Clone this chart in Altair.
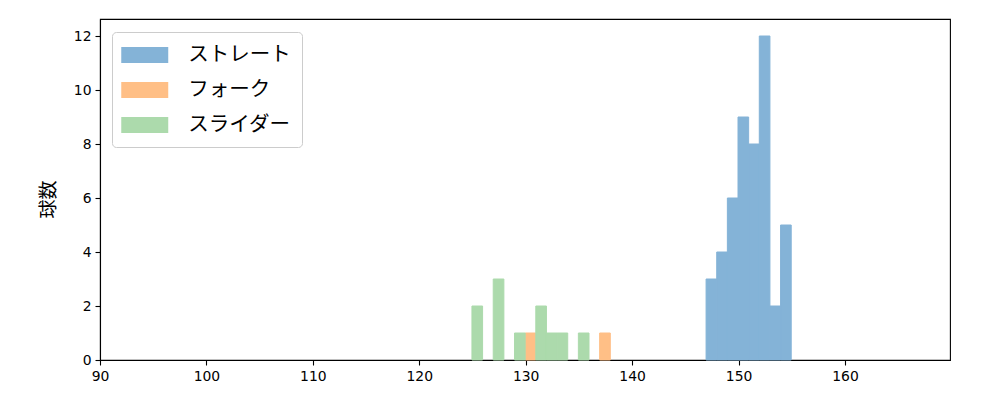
import altair as alt
import pandas as pd

# Pitch-type histogram (km/h), bins of width 1
straight_start = [146.95, 147.95, 148.95, 149.95, 150.95, 151.95, 152.95, 153.95]
straight_count = [3, 4, 6, 9, 8, 12, 2, 5]
fork_start = [129.95, 136.95]
fork_count = [1, 1]
slider_start = [124.95, 126.95, 128.95, 130.95, 131.95, 132.95, 134.95]
slider_count = [2, 3, 1, 2, 1, 1, 1]
bin_width = 1.0

names = ["ストレート", "フォーク", "スライダー"]
colors = ["#84b3d7", "#ffbf86", "#acdaac"]
x_ticks = [90, 100, 110, 120, 130, 140, 150, 160]
y_ticks = [0, 2, 4, 6, 8, 10, 12]

rows = []
for name, starts, counts in [
    (names[0], straight_start, straight_count),
    (names[1], fork_start, fork_count),
    (names[2], slider_start, slider_count),
]:
    for s, c in zip(starts, counts):
        rows.append({"球種": name, "start": s, "end": s + bin_width, "count": c})
df = pd.DataFrame(rows)

FONT = "Noto Sans CJK JP"
TICK_FONT = "DejaVu Sans"

chart = (
    alt.Chart(df)
    .mark_bar(opacity=1, strokeWidth=1, strokeOpacity=1)
    .encode(
        x=alt.X(
            "start:Q",
            scale=alt.Scale(domain=[90, 169.87], nice=False, zero=False),
            axis=alt.Axis(values=x_ticks, title=None, grid=False, format="d",
                          labelFlush=False, labelPadding=4),
        ),
        x2="end:Q",
        y=alt.Y(
            "count:Q",
            stack=None,
            scale=alt.Scale(domain=[0, 12.63], nice=False),
            axis=alt.Axis(
                values=y_ticks,
                title="球数",
                grid=False,
                labelFlush=False,
                labelPadding=4,
                titleFontSize=19,
                titleFontWeight="normal",
                titleAngle=-90,
                titleBaseline="middle",
                titleX=-52,
                titleY=180,
            ),
        ),
        y2=alt.datum(0),
        stroke=alt.Stroke(
            "球種:N",
            scale=alt.Scale(domain=names, range=colors),
            legend=None,
        ),
        color=alt.Color(
            "球種:N",
            scale=alt.Scale(domain=names, range=colors),
            sort=names,
            legend=alt.Legend(
                title=None,
                orient="none",
                legendX=12,
                legendY=13,
                symbolType="M-2,-0.68H2V0.68H-2Z",
                symbolSize=552,
                symbolOffset=9.75,
                symbolStrokeWidth=0,
                symbolOpacity=1,
                labelFontSize=20.5,
                labelFont=FONT,
                labelOffset=31.5,
                rowPadding=12,
                padding=11,
                strokeColor="#cccccc",
                cornerRadius=4,
                fillColor="white",
            ),
        ),
    )
    .properties(
        width=850,
        height=341,
        autosize=alt.AutoSizeParams(type="none"),
        padding={"left": 92, "top": 11, "right": 10, "bottom": 30},
    )
    .configure_view(stroke="black", strokeWidth=1.1)
    .configure_axis(
        domainColor="black",
        domainWidth=1.1,
        tickColor="black",
        tickWidth=1.1,
        tickSize=5,
        labelFont=TICK_FONT,
        labelFontSize=13.9,
        labelColor="black",
        titleFont=FONT,
        titleColor="black",
    )
)

chart.save("out.html", embed_options={"renderer": "svg", "actions": False})
